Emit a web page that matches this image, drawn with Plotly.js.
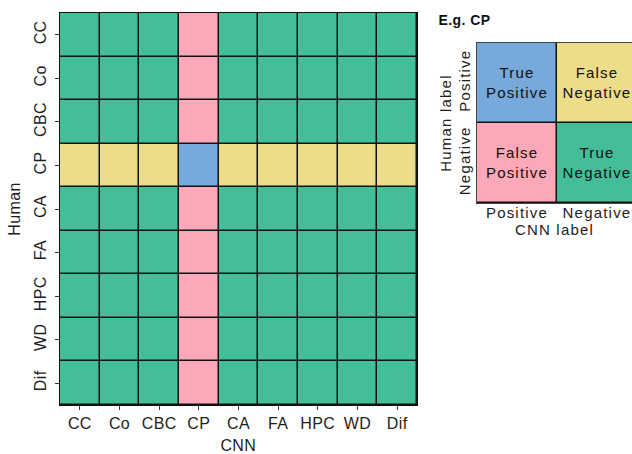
<!DOCTYPE html>
<html>
<head>
<meta charset="utf-8">
<script src="https://cdn.plot.ly/plotly-3.0.1.min.js"></script>
<style>
html,body{margin:0;padding:0;background:#fff;}
#chart{width:632px;height:454px;}
#chart .xtick text, #chart .ytick text, #chart .g-xtitle text, #chart .g-ytitle text, #chart .annotation-text {letter-spacing:0.4px;}
#chart .x2tick text, #chart .y2tick text, #chart .g-x2title text, #chart .g-y2title text, #chart .heatmaplayer text {letter-spacing:1.2px;}
</style>
</head>
<body>
<div id="chart"></div>
<script>
// Categories (CNN predictions on x, Human labels on y)
const categories = ['CC','Co','CBC','CP','CA','FA','HPC','WD','Dif'];
// Outcome of each cell (rows = Human label, columns = CNN label), example for CP
const outcomes = [
  ['TN','TN','TN','FP','TN','TN','TN','TN','TN'],
  ['TN','TN','TN','FP','TN','TN','TN','TN','TN'],
  ['TN','TN','TN','FP','TN','TN','TN','TN','TN'],
  ['FN','FN','FN','TP','FN','FN','FN','FN','FN'],
  ['TN','TN','TN','FP','TN','TN','TN','TN','TN'],
  ['TN','TN','TN','FP','TN','TN','TN','TN','TN'],
  ['TN','TN','TN','FP','TN','TN','TN','TN','TN'],
  ['TN','TN','TN','FP','TN','TN','TN','TN','TN'],
  ['TN','TN','TN','FP','TN','TN','TN','TN','TN']
];
// Legend example matrix
const legendLabels = ['Positive','Negative'];
const legendOutcomes = [['TP','FN'],['FP','TN']];
const legendTexts = [['True<br>Positive','False<br>Negative'],['False<br>Positive','True<br>Negative']];

const code = {TN:0, FP:1, FN:2, TP:3};
const cs = [[0,'#44BE99'],[1/3,'#FDA8B8'],[2/3,'#ECDD8B'],[1,'#77A9DA']];
const font = 'Liberation Sans, Arial, Helvetica, sans-serif';

const traces = [
  {
    type:'heatmap', x:categories, y:categories,
    z: outcomes.map(r=>r.map(v=>code[v])),
    colorscale:cs, zmin:0, zmax:3, showscale:false,
    xgap:1.5, ygap:1.5, hoverinfo:'skip',
    xaxis:'x', yaxis:'y'
  },
  {
    type:'heatmap', x:legendLabels, y:legendLabels,
    z: legendOutcomes.map(r=>r.map(v=>code[v])),
    text: legendTexts, texttemplate:'%{text}',
    textfont:{family:font, size:15, color:'#111'},
    colorscale:cs, zmin:0, zmax:3, showscale:false,
    xgap:1.5, ygap:1.5, hoverinfo:'skip',
    xaxis:'x2', yaxis:'y2'
  }
];

const layout = {
  width:632, height:454,
  margin:{l:60, r:0, t:13, b:49},
  paper_bgcolor:'#fff', plot_bgcolor:'#111',
  font:{family:font, size:16, color:'#1e1e1e'},
  xaxis:{
    domain:[0,0.6241], anchor:'y',
    ticks:'outside', ticklen:4, tickcolor:'#333', tickwidth:1,
    showline:true, mirror:true, linecolor:'#111', linewidth:1,
    showgrid:false, zeroline:false,
    tickfont:{size:16, color:'#1e1e1e'}
  },
  yaxis:{
    domain:[0,1], anchor:'x', autorange:'reversed',
    ticks:'outside', ticklen:4, tickcolor:'#333', tickwidth:1, tickangle:-90,
    ticklabelstandoff:3,
    showline:true, mirror:true, linecolor:'#111', linewidth:1,
    showgrid:false, zeroline:false,
    tickfont:{size:16, color:'#1e1e1e'},
    title:{text:'Human', font:{size:16}, standoff:6}
  },
  xaxis2:{
    domain:[0.729,1], anchor:'y2', range:[-0.5,1.4375],
    ticks:'', showline:true, mirror:true, linecolor:'#444', linewidth:1,
    showgrid:false, zeroline:false, ticklabelstandoff:-4,
    tickfont:{size:15, color:'#1e1e1e'},
    title:{text:'CNN label', font:{size:15}, standoff:0}
  },
  yaxis2:{
    domain:[0.5153,0.9235], anchor:'x2', autorange:'reversed',
    ticks:'', tickangle:-90, showline:true, mirror:true, linecolor:'#444', linewidth:1,
    showgrid:false, zeroline:false,
    tickfont:{size:15, color:'#1e1e1e'},
    title:{text:'Human label', font:{size:15}, standoff:0}
  },
  annotations:[
    {text:'<b>E.g. CP</b>', xref:'paper', yref:'paper', x:(438-60)/572, y:(405-20)/392,
     xanchor:'left', yanchor:'middle', showarrow:false, font:{size:14, color:'#111'}},
    {text:'CNN', xref:'paper', yref:'paper', x:(238.5-60)/572, y:-(445.5-405)/392,
     xanchor:'center', yanchor:'middle', showarrow:false, font:{size:16, color:'#1e1e1e'}}
  ]
};

Plotly.newPlot('chart', traces, layout, {staticPlot:true, displayModeBar:false});
</script>
</body>
</html>
